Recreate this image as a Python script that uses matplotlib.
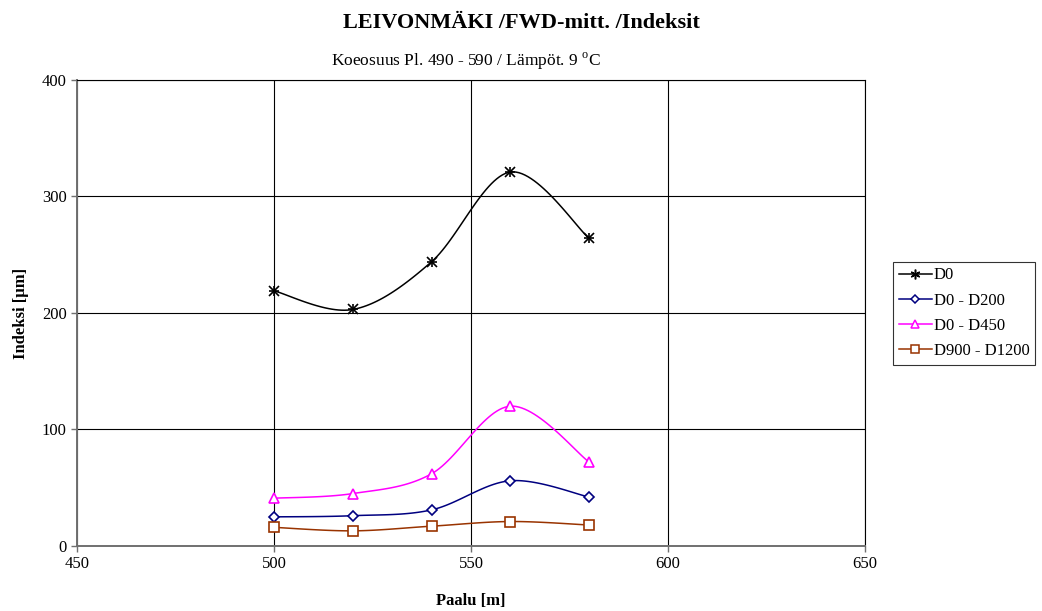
import numpy as np
import matplotlib
matplotlib.use("Agg")
import matplotlib.pyplot as plt

plt.rcParams['font.family'] = ['Liberation Serif', 'DejaVu Serif']
plt.rcParams['mathtext.fontset'] = 'custom'
plt.rcParams['mathtext.rm'] = 'Liberation Serif'

paalu = [500, 520, 540, 560, 580]
d0 = [219, 203, 244, 321, 264]
d0_d200 = [25, 26, 31, 56, 42]
d0_d450 = [41, 45, 62, 120, 72]
d900_d1200 = [16, 13, 17, 21, 18]


def smooth(x, y, n=30):
    # Catmull-Rom style smoothing through the measured points
    x = np.asarray(x, float)
    y = np.asarray(y, float)
    px = np.concatenate([[x[0]], x, [x[-1]]])
    py = np.concatenate([[y[0]], y, [y[-1]]])
    xs, ys = [], []
    t = np.linspace(0, 1, n)
    for i in range(1, len(px) - 2):
        p0x, p1x, p2x, p3x = px[i - 1:i + 3]
        p0y, p1y, p2y, p3y = py[i - 1:i + 3]
        c1x, c1y = p1x + (p2x - p0x) / 6, p1y + (p2y - p0y) / 6
        c2x, c2y = p2x - (p3x - p1x) / 6, p2y - (p3y - p1y) / 6
        bx = (1 - t) ** 3 * p1x + 3 * (1 - t) ** 2 * t * c1x + 3 * (1 - t) * t ** 2 * c2x + t ** 3 * p2x
        by = (1 - t) ** 3 * p1y + 3 * (1 - t) ** 2 * t * c1y + 3 * (1 - t) * t ** 2 * c2y + t ** 3 * p2y
        xs.extend(bx)
        ys.extend(by)
    return xs, ys


fig = plt.figure(figsize=(10.42, 6.11), dpi=100)
ax = fig.add_axes([0.0739, 0.1064, 0.7562, 0.7627])

series = [
    (d0, 'D0', 'black', 'x', 'none'),
    (d0_d200, 'D0 - D200', '#000080', 'D', 'white'),
    (d0_d450, 'D0 - D450', '#ff00ff', '^', 'white'),
    (d900_d1200, 'D900 - D1200', '#993300', 's', 'white'),
]
sizes = {'D': 5, '^': 7, 's': 6.5}
for vals, name, col, mk, fc in series:
    sx, sy = smooth(paalu, vals)
    ax.plot(sx, sy, color=col, lw=1.1, zorder=3)
    if mk == 'x':
        ax.plot(paalu, vals, ls='none', marker='x', ms=6.5, color=col, mew=1.2, zorder=4)
        ax.plot(paalu, vals, ls='none', marker='+', ms=7.5, color=col, mew=1.2, zorder=4)
        ax.plot([], [], color=col, lw=1.1, marker=(6, 2, 0), ms=7, mew=1.1, label=name)
    else:
        ax.plot(paalu, vals, ls='none', marker=mk, ms=sizes[mk],
                mfc=fc, mec=col, mew=1.2, zorder=4)
        ax.plot([], [], color=col, lw=1.1, marker=mk, ms=sizes[mk] - 1,
                mfc=fc, mec=col, mew=1.1, label=name)

ax.set_xlim(450, 650)
ax.set_ylim(0, 400)
ax.set_xticks([450, 500, 550, 600, 650])
ax.set_yticks([0, 100, 200, 300, 400])
ax.grid(True, color='black', lw=0.8)
ax.set_axisbelow(True)
for s in ax.spines.values():
    s.set_color('black')
    s.set_linewidth(0.8)
for side in ('left', 'bottom'):
    ax.spines[side].set_color('#707070')
    ax.spines[side].set_linewidth(1.4)
ax.tick_params(direction='out', length=4, width=1.0, labelsize=12, color='#707070')

ax.set_xlabel('Paalu [m]', fontsize=12, fontweight='bold')
ax.xaxis.set_label_coords(0.5, -0.101)
ax.set_ylabel('Indeksi [µm]', fontsize=12, fontweight='bold')
ax.yaxis.set_label_coords(-0.061, 0.5)

fig.text(0.5, 0.963, 'LEIVONMÄKI /FWD-mitt. /Indeksit', ha='center', va='center',
         fontsize=16, fontweight='bold')
fig.text(0.447, 0.899, 'Koeosuus Pl. 490 - 590 / Lämpöt. 9 $^{\\mathrm{o}}$C', ha='center',
         va='center', fontsize=12.5)

leg = fig.legend(loc='upper left', bbox_to_anchor=(0.857, 0.572), fontsize=12,
                 frameon=True, fancybox=False, edgecolor='black', handlelength=2.0,
                 handletextpad=0.1, borderpad=0.35, labelspacing=0.55, borderaxespad=0)
leg.get_frame().set_linewidth(0.8)

fig.savefig('out.png', dpi=100)
